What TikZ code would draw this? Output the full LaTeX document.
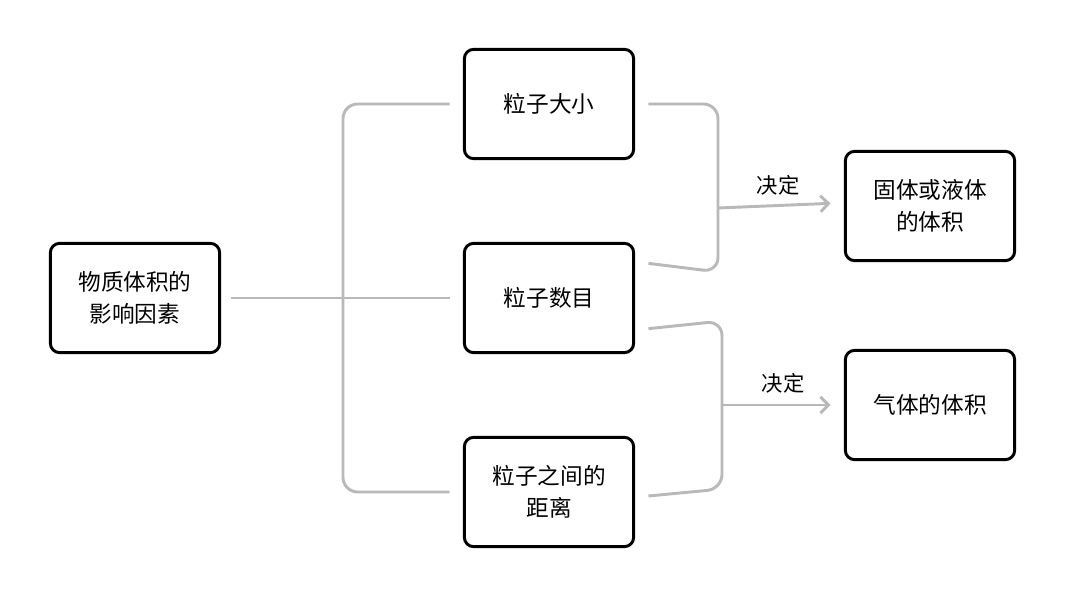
\documentclass[tikz,border=0pt]{standalone}
\usepackage{fontspec}
\setmainfont{Noto Sans CJK SC}
\usetikzlibrary{arrows.meta}
\begin{document}
\begin{tikzpicture}[x=0.75pt,y=-0.75pt,
  box/.style={draw=black,line width=2.2pt,rounded corners=7pt,minimum width=127pt,minimum height=82pt,align=center,font=\fontsize{17}{24}\selectfont,inner sep=0pt},
  con/.style={draw=gray!55,line width=2.2pt,rounded corners=11pt},
  lab/.style={font=\fontsize{16}{20}\selectfont}]
\useasboundingbox (0,0) rectangle (1065,596);
\node[box] (root) at (135,298) {物质体积的\\影响因素};
\node[box] (a) at (549,104) {粒子大小};
\node[box] (b) at (549,298) {粒子数目};
\node[box] (c) at (549,492) {粒子之间的\\距离};
\node[box] (d) at (930,206) {固体或液体\\的体积};
\node[box] (e) at (930,405) {气体的体积};
\coordinate (j1) at (718,208);
\coordinate (j2) at (722,405);
\draw[con] (root.east) ++(10,0) -- (343,298);
\draw[con] ([xshift=-10]a.west) -- (343,104) -- (343,492) -- ([xshift=-10]c.west);
\draw[con] (343,298) -- ([xshift=-10]b.west);
\draw[con] ([xshift=10]a.east) -- (718,104) -- (718,272) -- ([xshift=10,yshift=26]b.east);
\draw[con] ([xshift=10,yshift=-23]b.east) -- (722,321) -- (722,489) -- ([xshift=10,yshift=-3]c.east);
\draw[con,rounded corners=0,-{Straight Barb[length=6pt,width=12pt]}] (j1) -- ([xshift=-10,yshift=2]d.west);
\draw[con,rounded corners=0,-{Straight Barb[length=6pt,width=12pt]}] (j2) -- ([xshift=-10]e.west);
\node[lab] (l1) at (778,185) {决定};
\node[lab] (l2) at (783,383) {决定};
\end{tikzpicture}
\end{document}
